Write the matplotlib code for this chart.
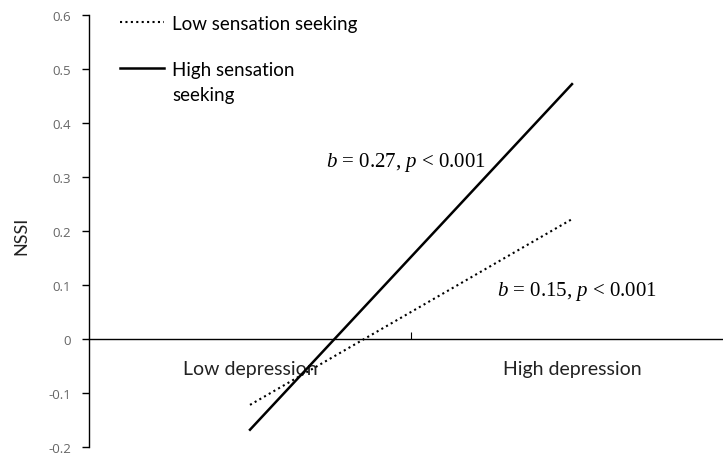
import numpy as np
import matplotlib.pyplot as plt

plt.rcParams['font.family'] = ['Lato', 'DejaVu Sans']
plt.rcParams['mathtext.fontset'] = 'custom'
plt.rcParams['mathtext.it'] = 'Liberation Serif:italic'
plt.rcParams['mathtext.rm'] = 'Liberation Serif'

# simple slopes at low / high depression
x_pos = [0.5, 1.5]
low_ss = [-0.122, 0.222]
high_ss = [-0.168, 0.472]
categories = ['Low depression', 'High depression']
yticks = [-0.2, -0.1, 0, 0.1, 0.2, 0.3, 0.4, 0.5, 0.6]
ytick_labels = ['-0.2', '-0.1', '0', '0.1', '0.2', '0.3', '0.4', '0.5', '0.6']

W, H = 723, 456
fig = plt.figure(figsize=(W / 100, H / 100), dpi=100)
ax = fig.add_axes([89 / W, 8 / H, (W - 89) / W, (448 - 16) / H])

ax.plot(x_pos, low_ss, color='black', lw=1.5, ls=(0, (1, 1.6)), label='Low sensation seeking')
ax.plot(x_pos, high_ss, color='black', lw=1.8, label='High sensation')

ax.set_xlim(0, (W - 89) / 322)
ax.set_ylim(-0.2, 0.6)
ax.set_yticks(yticks)
ax.set_yticklabels(ytick_labels, color='#666666', fontsize=9.5, family=['Open Sans', 'DejaVu Sans'])
ax.tick_params(axis='y', direction='out', length=5, width=1, pad=8)

ax.spines['top'].set_visible(False)
ax.spines['right'].set_visible(False)
ax.spines['bottom'].set_position(('data', 0))
ax.spines['left'].set_linewidth(1)
ax.spines['bottom'].set_linewidth(1)

ax.set_xticks([1])
ax.set_xticklabels([''])
ax.tick_params(axis='x', which='major', direction='in', length=5, width=0.8)
ax.set_xticks(x_pos, minor=True)
ax.set_xticklabels(categories, minor=True, fontsize=14, color='#222222')
ax.tick_params(axis='x', which='minor', length=0, pad=15)

fig.text(21 / W, 1 - 236 / H, 'NSSI', rotation=90, fontsize=13, color='#222222',
         ha='center', va='center')

ax.text(326, H - 163, r'$b$ = 0.27, $p$ < 0.001', transform=None, fontsize=15,
        family='Liberation Serif', va='center', ha='left')
ax.text(497, H - 292, r'$b$ = 0.15, $p$ < 0.001', transform=None, fontsize=15,
        family='Liberation Serif', va='center', ha='left')

leg = ax.legend(loc='upper left', bbox_to_anchor=(0.023, 1.04), frameon=False, fontsize=13.5,
                handlelength=2.3, handletextpad=0.45, labelspacing=1.55)
# second line of the wrapped legend label, handle stays on the first line
fig.canvas.draw()
bb = leg.get_texts()[1].get_window_extent()
fig.text(bb.x0 / W, (H - 96) / H, 'seeking', fontsize=13.5, va='center', ha='left')

plt.savefig('out.png', dpi=100)
